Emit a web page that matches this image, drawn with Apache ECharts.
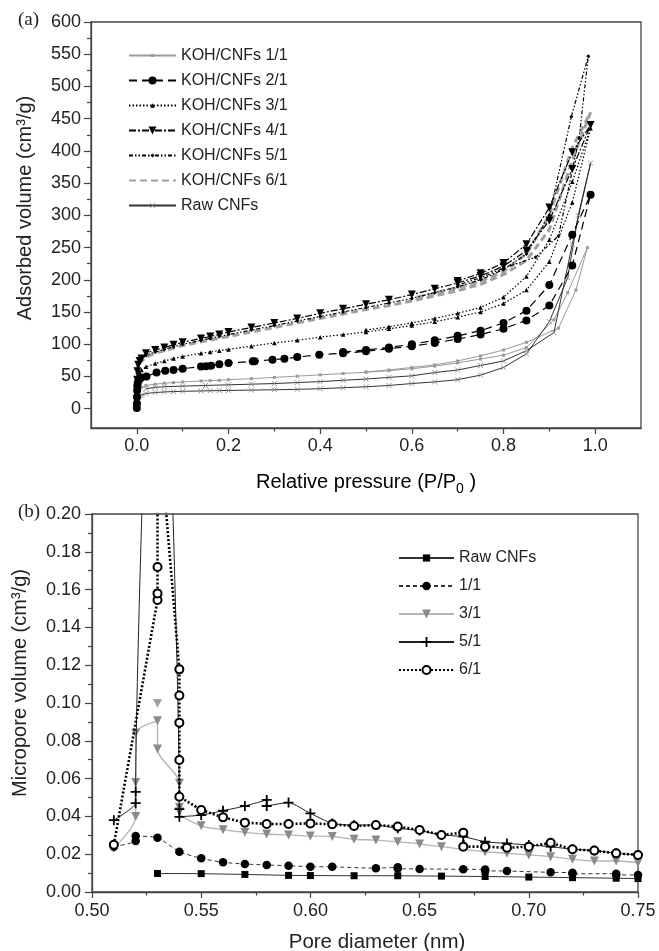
<!DOCTYPE html>
<html><head><meta charset="utf-8">
<script src="https://cdn.jsdelivr.net/npm/echarts@6/dist/echarts.min.js"></script>
<style>html,body{margin:0;padding:0;background:#fff}#c{width:659px;height:951px}</style>
</head><body><div id="c"></div>
<script>
// ===== (a) N2 isotherms: [P/P0, V] (adsorption branch then desorption branch) =====
const koh11 = [[0.00001,1],[0.0001,6],[0.0005,15],[0.001,20],[0.003,27],[0.006,31],[0.01,33],[0.02,36],[0.04,38],[0.06,39.5],[0.08,40.5],[0.1,41.5],[0.14,43],[0.16,43.5],[0.18,44],[0.2,45],[0.25,46.5],[0.3,48.5],[0.35,50.5],[0.4,52.5],[0.45,54.5],[0.5,56.5],[0.55,59],[0.6,62],[0.65,66],[0.7,71],[0.75,77],[0.8,83],[0.85,95],[0.91,138],[0.94,180],[0.983,250],
  [0.958,184],[0.92,125],[0.85,103],[0.8,91],[0.75,82],[0.7,74],[0.65,68],[0.6,64],[0.55,60],[0.5,57]];
const koh21 = [[0.00001,1],[0.0001,8],[0.0003,18],[0.0006,28],[0.001,35],[0.002,40],[0.004,44],[0.007,47],[0.01,48.5],[0.021,50],[0.043,56],[0.062,59],[0.08,60],[0.1,62],[0.14,65.5],[0.151,65.8],[0.162,66.7],[0.18,69],[0.2,70.8],[0.253,73.4],[0.257,73.6],[0.296,76],[0.322,77.5],[0.35,80],[0.398,83.7],[0.45,86],[0.5,89],[0.55,93],[0.6,97],[0.65,102],[0.7,108],[0.75,115],[0.8,124],[0.85,137],[0.9,160],[0.95,222],[0.99,332],
  [0.95,270],[0.9,192],[0.85,152],[0.8,133],[0.75,121],[0.7,113],[0.65,106],[0.6,100],[0.55,95],[0.5,91],[0.45,88]];
const koh31 = [[0.00001,1],[0.0001,10],[0.0005,30],[0.001,40],[0.003,50],[0.006,56],[0.01,60],[0.02,65],[0.04,70],[0.06,74],[0.08,78],[0.1,81],[0.14,86],[0.16,88],[0.18,90],[0.2,92],[0.25,97],[0.3,102],[0.35,106],[0.4,111],[0.45,115],[0.5,119],[0.55,124],[0.6,129],[0.65,135],[0.7,142],[0.75,150],[0.8,163],[0.85,184],[0.9,228],[0.95,320],[0.99,435],
  [0.95,352],[0.9,262],[0.85,205],[0.8,173],[0.75,157],[0.7,148],[0.65,140],[0.6,133],[0.55,127],[0.5,122]];
const koh41 = [[0.00001,1],[0.0001,15],[0.0005,45],[0.001,58],[0.003,68],[0.006,74],[0.01,78],[0.02,86],[0.04,91],[0.06,95],[0.08,99],[0.1,103],[0.14,109],[0.16,112],[0.18,115],[0.2,119],[0.25,126],[0.3,133],[0.35,140],[0.4,148],[0.45,155],[0.5,162],[0.55,169],[0.6,177],[0.65,186],[0.7,195],[0.75,206],[0.8,221],[0.85,245],[0.9,292],[0.95,372],[0.99,440],
  [0.95,398],[0.9,312],[0.85,255],[0.8,226],[0.75,210],[0.7,198]];
const koh51 = [[0.00001,1],[0.0001,12],[0.0005,40],[0.001,55],[0.003,66],[0.006,72],[0.01,76],[0.02,83],[0.04,88],[0.06,92],[0.08,96],[0.1,100],[0.14,106],[0.16,109],[0.18,112],[0.2,115],[0.25,122],[0.3,129],[0.35,136],[0.4,143],[0.45,150],[0.5,157],[0.55,164],[0.6,171],[0.65,180],[0.7,189],[0.75,200],[0.8,216],[0.85,240],[0.9,300],[0.948,453],[0.985,547],
  [0.965,420],[0.92,268],[0.87,235],[0.8,218],[0.75,203],[0.7,192]];
const koh61 = [[0.00001,1],[0.0001,12],[0.0005,40],[0.001,52],[0.003,63],[0.006,69],[0.01,73],[0.02,80],[0.04,86],[0.06,90],[0.08,94],[0.1,98],[0.15,105],[0.2,112],[0.25,119],[0.3,126],[0.35,133],[0.4,140],[0.45,147],[0.5,154],[0.55,160],[0.6,167],[0.65,175],[0.7,183],[0.75,193],[0.8,208],[0.85,230],[0.9,278],[0.95,385],[0.99,460],
  [0.95,405],[0.9,300],[0.85,240],[0.8,213],[0.75,198],[0.7,188],[0.6,171]];
const rawCNFs = [[0.00001,1],[0.0001,5],[0.0005,11],[0.001,14],[0.003,18],[0.006,20],[0.01,21],[0.02,23.5],[0.04,25],[0.06,26],[0.08,26.5],[0.1,27],[0.14,27.5],[0.16,27.8],[0.18,28],[0.2,28.3],[0.25,28.8],[0.3,29.3],[0.35,30],[0.4,31],[0.45,32.5],[0.5,34],[0.55,36],[0.6,39],[0.65,41.5],[0.7,45],[0.75,52],[0.8,64],[0.85,85],[0.9,135],[0.94,203],[0.963,300],[0.99,381],
  [0.95,255],[0.91,118],[0.85,90],[0.8,74],[0.75,67],[0.7,60],[0.65,56],[0.6,51],[0.55,48.5],[0.5,46],[0.45,44],[0.4,42],[0.35,40.5],[0.3,39],[0.25,38],[0.2,37],[0.15,36],[0.1,35],[0.06,34],[0.04,33],[0.02,31]];
const topNames = ['KOH/CNFs 1/1','KOH/CNFs 2/1','KOH/CNFs 3/1','KOH/CNFs 4/1','KOH/CNFs 5/1','KOH/CNFs 6/1','Raw CNFs'];
const topYTicks = [0,50,100,150,200,250,300,350,400,450,500,550,600];
const topYMinor = [25,75,125,175,225,275,325,375,425,475,525,575];
const topXTicks = [0,0.2,0.4,0.6,0.8,1.0];
const topXMinor = [0.1,0.3,0.5,0.7,0.9];

// ===== (b) micropore distribution: [pore diameter nm, volume] =====
const bRaw = [[0.53,0.0098],[0.55,0.0097],[0.57,0.0093],[0.59,0.0088],[0.60,0.0087],[0.62,0.0086],[0.64,0.0086],[0.66,0.0084],[0.68,0.0082],[0.70,0.0079],[0.72,0.0076],[0.74,0.0073],[0.75,0.0071]];
const b11 = [[0.51,0.024],[0.52,0.027],[0.52,0.0296],[0.53,0.0287],[0.54,0.0213],[0.55,0.0178],[0.56,0.0157],[0.57,0.0148],[0.58,0.0143],[0.59,0.0139],[0.60,0.0134],[0.61,0.0133],[0.63,0.0126],[0.64,0.0131],[0.64,0.0124],[0.65,0.0122],[0.67,0.012],[0.68,0.0119],[0.68,0.0112],[0.69,0.0111],[0.71,0.0104],[0.72,0.0102],[0.72,0.0096],[0.74,0.0097],[0.74,0.0091],[0.75,0.009]];
const b31 = [[0.51,0.023],[0.52,0.040],[0.52,0.058],[0.52,0.084],[0.53,0.0906],[0.53,0.0757],[0.54,0.0575],[0.54,0.0448],[0.54,0.0425],[0.55,0.035],[0.56,0.033],[0.57,0.0316],[0.58,0.0307],[0.59,0.0302],[0.60,0.0296],[0.61,0.0294],[0.62,0.0279],[0.63,0.0275],[0.64,0.0266],[0.65,0.0254],[0.66,0.024],[0.68,0.0213],[0.69,0.0205],[0.70,0.0196],[0.71,0.0187],[0.72,0.0173],[0.73,0.0164],[0.74,0.0164],[0.75,0.0155]];
const b31extra = [[0.53,0.0998]];
const b51 = [[0.51,0.038],[0.52,0.047],[0.52,0.053],[0.53,0.40],[0.54,0.0439],[0.54,0.0398],[0.55,0.0407],[0.56,0.043],[0.57,0.0455],[0.58,0.0487],[0.58,0.0455],[0.59,0.0473],[0.60,0.0416],[0.61,0.0363],[0.62,0.0354],[0.63,0.0354],[0.64,0.0337],[0.65,0.0325],[0.66,0.0302],[0.67,0.0293],[0.68,0.0266],[0.69,0.0257],[0.70,0.0249],[0.71,0.024],[0.72,0.0226],[0.73,0.0219],[0.74,0.0205],[0.75,0.0196]];
const b61 = [[0.51,0.025],[0.53,0.1545],[0.53,0.158],[0.53,0.172],[0.53,0.255],[0.54,0.1178],[0.54,0.104],[0.54,0.0896],[0.54,0.0698],[0.54,0.0504],[0.55,0.0434],[0.56,0.0395],[0.57,0.0367],[0.58,0.036],[0.59,0.036],[0.60,0.0363],[0.61,0.0358],[0.62,0.0349],[0.63,0.0354],[0.64,0.0346],[0.65,0.0328],[0.66,0.0302],[0.67,0.0314],[0.67,0.024],[0.68,0.024],[0.69,0.0234],[0.70,0.024],[0.71,0.026],[0.72,0.0226],[0.73,0.0219],[0.74,0.0205],[0.75,0.0196]];
const botNames = ['Raw CNFs','1/1','3/1','5/1','6/1'];

// ===== chart =====
const FONT = '"Liberation Sans", Arial, sans-serif';
const TXT = '#222';
const AX = '#444';
const XPATH = 'path://M0,0L10,10M10,0L0,10';
const PLUS = 'path://M5,0L5,10M0,5L10,5';

function tSer(name, data, o) {
  return Object.assign({type:'line', name, data, xAxisIndex:0, yAxisIndex:0, animation:false,
    showSymbol:true, clip:true}, o);
}
function bSer(name, data, o) {
  return Object.assign({type:'line', name:'b:'+name, data, xAxisIndex:2, yAxisIndex:2, animation:false,
    showSymbol:true, clip:true}, o);
}

const series = [
  tSer(topNames[0], koh11, {symbol:'rect', symbolSize:3, lineStyle:{color:'#9a9a9a', width:1}, itemStyle:{color:'#9a9a9a', borderWidth:0}, z:2}),
  tSer(topNames[1], koh21, {symbol:'circle', symbolSize:8, lineStyle:{color:'#000', width:1.2, type:[8,5]}, itemStyle:{color:'#000', borderWidth:0}, z:3}),
  tSer(topNames[2], koh31, {symbol:'triangle', symbolSize:4.5, lineStyle:{color:'#000', width:1.2, type:[1.5,2]}, itemStyle:{color:'#000', borderWidth:0}, z:3}),
  tSer(topNames[3], koh41, {symbol:'triangle', symbolRotate:180, symbolSize:8, lineStyle:{color:'#000', width:1.2, type:[7,2,2,2]}, itemStyle:{color:'#000', borderWidth:0}, z:4}),
  tSer(topNames[4], koh51, {symbol:'diamond', symbolSize:4, lineStyle:{color:'#000', width:1.2, type:[4,2,1.5,2,1.5,2]}, itemStyle:{color:'#000', borderWidth:0}, z:4}),
  tSer(topNames[5], koh61, {symbol:'none', lineStyle:{color:'#a0a0a0', width:3, type:[7,4]}, itemStyle:{color:'#a0a0a0'}, z:3}),
  tSer(topNames[6], rawCNFs, {symbol:XPATH, symbolSize:5, lineStyle:{color:'#333', width:1}, itemStyle:{color:'#888', borderColor:'#888', borderWidth:0.9}, z:2}),

  bSer(botNames[2], b31, {symbol:'triangle', symbolRotate:180, symbolSize:9, smooth:0.3, lineStyle:{color:'#b4b4b4', width:1.3}, itemStyle:{color:'#8a8a8a', borderWidth:0}, z:2}),
  {type:'scatter', name:'b:3/1x', data:b31extra, xAxisIndex:2, yAxisIndex:2, animation:false, symbol:'triangle', symbolRotate:180, symbolSize:9, itemStyle:{color:'#8a8a8a'}, z:2},
  bSer(botNames[0], bRaw, {symbol:'rect', symbolSize:7, lineStyle:{color:'#333', width:1}, itemStyle:{color:'#000', borderWidth:0}, z:3}),
  bSer(botNames[1], b11, {symbol:'circle', symbolSize:8.5, smooth:0.2, lineStyle:{color:'#333', width:1, type:[4,3]}, itemStyle:{color:'#000', borderWidth:0}, z:3}),
  bSer(botNames[3], b51, {symbol:PLUS, symbolSize:10, smooth:0.2, lineStyle:{color:'#222', width:1}, itemStyle:{color:'#000', borderColor:'#000', borderWidth:1.8}, z:4}),
  bSer(botNames[4], b61, {symbol:'emptyCircle', symbolSize:8, lineStyle:{color:'#000', width:2.6, type:[2,2]}, itemStyle:{color:'#000', borderWidth:1.5}, z:5}),
];

// legends (one per item so each keeps its own marker size)
const topLegH = [3.8, 10, 5.6, 10, 5, 10, 6.5];
const legends = [];
topNames.forEach((n, i) => {
  const lg = {data:[n], orient:'vertical', left:128, top:55.5 + 25*i - 8, itemWidth:47, itemHeight:topLegH[i],
    padding:0, selectedMode:false, textStyle:{fontSize:16, color:TXT, fontFamily:FONT}};
  if (i === 5) lg.itemStyle = {opacity:0};
  if (i === 6) lg.itemStyle = {color:'#888', borderColor:'#888', borderWidth:0.9};
  legends.push(lg);
});
const botLegH = [9, 10.5, 11, 12.5, 10];
botNames.forEach((n, i) => {
  const lg = {data:['b:'+n], orient:'vertical', left:398, top:558 + 28*i - 8, itemWidth:55, itemHeight:botLegH[i],
    padding:0, selectedMode:false, formatter: s => s.slice(2), textStyle:{fontSize:16, color:TXT, fontFamily:FONT}};
  if (i === 3) lg.itemStyle = {color:'#000', borderColor:'#000', borderWidth:1.8};
  legends.push(lg);
});

const axLine = {show:true, onZero:false, lineStyle:{color:AX, width:1.3}};
const lbl = {color:TXT, fontSize:18, fontFamily:FONT};

const option = {
  backgroundColor:'#fff',
  animation:false,
  grid:[
    {left:91, top:22, width:550, height:406, show:true, borderColor:AX, borderWidth:1.3, backgroundColor:'transparent'},
    {left:92, top:514, width:546, height:378, show:true, borderColor:AX, borderWidth:1.3, backgroundColor:'transparent'}
  ],
  xAxis:[
    {type:'value', gridIndex:0, position:'bottom', min:-0.1, max:1.1, axisLine:axLine, splitLine:{show:false},
      axisTick:{show:true, length:6, customValues:topXTicks, lineStyle:{color:AX, width:1.2}},
      axisLabel:Object.assign({margin:9, customValues:topXTicks, formatter:v=>v.toFixed(1)}, lbl)},
    {type:'value', gridIndex:0, position:'bottom', min:-0.1, max:1.1, axisLine:{show:false, onZero:false}, splitLine:{show:false},
      axisTick:{show:true, length:3.5, customValues:topXMinor, lineStyle:{color:AX, width:1.2}}, axisLabel:{show:false}},
    {type:'value', gridIndex:1, min:0.5, max:0.75, interval:0.05, axisLine:axLine, splitLine:{show:false},
      axisTick:{show:true, length:6, lineStyle:{color:AX, width:1.2}},
      minorTick:{show:true, splitNumber:2, length:3.5, lineStyle:{color:AX, width:1.2}},
      axisLabel:Object.assign({margin:10, formatter:v=>v.toFixed(2)}, lbl)}
  ],
  yAxis:[
    {type:'value', gridIndex:0, position:'left', min:-30, max:600, axisLine:axLine, splitLine:{show:false},
      axisTick:{show:true, length:7, customValues:topYTicks, lineStyle:{color:AX, width:1.2}},
      axisLabel:Object.assign({margin:10, customValues:topYTicks, formatter:v=>String(Math.round(v))}, lbl)},
    {type:'value', gridIndex:0, position:'left', min:-30, max:600, axisLine:{show:false, onZero:false}, splitLine:{show:false},
      axisTick:{show:true, length:4, customValues:topYMinor, lineStyle:{color:AX, width:1.2}}, axisLabel:{show:false}},
    {type:'value', gridIndex:1, min:0, max:0.2, interval:0.02, axisLine:axLine, splitLine:{show:false},
      axisTick:{show:true, length:7, lineStyle:{color:AX, width:1.2}},
      minorTick:{show:true, splitNumber:2, length:4, lineStyle:{color:AX, width:1.2}},
      axisLabel:Object.assign({margin:11, formatter:v=>v.toFixed(2)}, lbl)}
  ],
  legend: legends,
  graphic:[
    {type:'text', left:18, top:11, style:{text:'(a)', font:'19px "Liberation Serif", serif', fill:TXT}},
    {type:'text', left:18, top:503, style:{text:'(b)', font:'19px "Liberation Serif", serif', fill:TXT}},
    {type:'text', x:25.5, y:208, rotation:Math.PI/2, style:{text:'Adsorbed volume (cm³/g)', font:'20px '+FONT, fill:TXT, textAlign:'center', textVerticalAlign:'middle'}},
    {type:'text', x:20, y:683, rotation:Math.PI/2, style:{text:'Micropore volume (cm³/g)', font:'20px '+FONT, fill:TXT, textAlign:'center', textVerticalAlign:'middle'}},
    {type:'text', x:366, y:482, style:{text:'{a|Relative pressure (P/P}{s|0}{a| )}', textAlign:'center', textVerticalAlign:'middle',
      rich:{a:{fontSize:20, fontFamily:FONT, color:TXT, lineHeight:28}, s:{fontSize:14, fontFamily:FONT, color:TXT, lineHeight:14, verticalAlign:'bottom'}}}},
    {type:'text', x:377, y:942, style:{text:'Pore diameter (nm)', font:'20.5px '+FONT, fill:TXT, textAlign:'center', textVerticalAlign:'middle'}}
  ],
  series
};

const chart = echarts.init(document.getElementById('c'), null, {renderer:'canvas'});
chart.setOption(option);
</script>
</body></html>
